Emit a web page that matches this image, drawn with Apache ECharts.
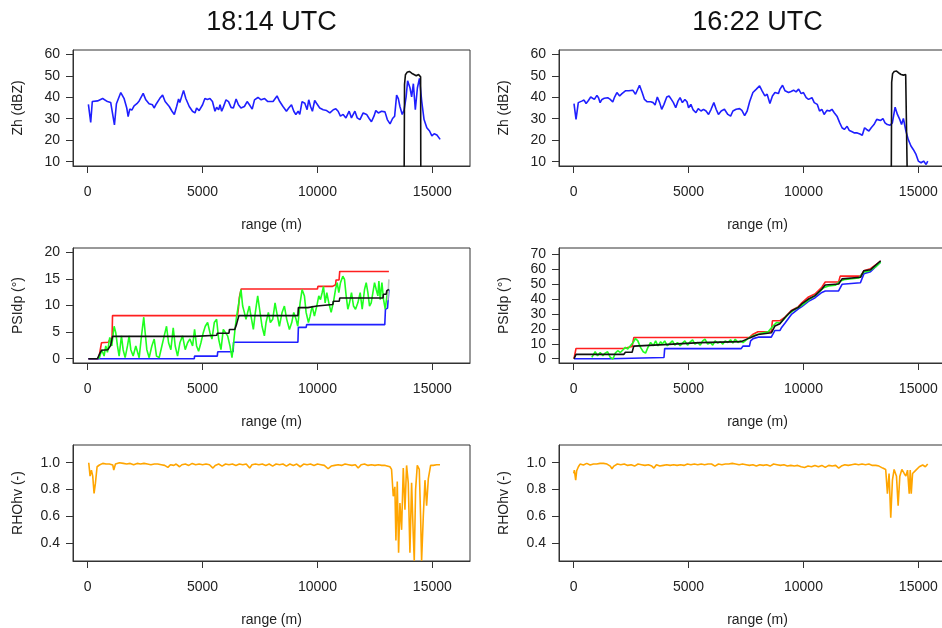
<!DOCTYPE html>
<html>
<head>
<meta charset="utf-8">
<script src="https://cdn.jsdelivr.net/npm/echarts@6/dist/echarts.min.js"></script>
<style>html,body{margin:0;padding:0;background:#fff;overflow:hidden}#c{width:942px;height:628px}</style>
</head>
<body>
<div id="c"></div>
<script>
// ---------- data ----------
const titles = ['18:14 UTC', '16:22 UTC'];
const xTicks = [0, 5000, 10000, 15000];
const zhTicks = [10, 20, 30, 40, 50, 60];
const psiTicksL = [0, 5, 10, 15, 20];
const psiTicksR = [0, 10, 20, 30, 40, 50, 60, 70];
const rhoTicks = [0.4, 0.6, 0.8, 1.0];

// Zh 18:14 (blue) [range m, dBZ]
const zhL = [[30,36.7],[131,28.3],[200,38],[430,38.3],[650,39.4],[860,38],[1000,37.6],[1080,37],[1164,27.1],[1250,37],
[1440,42.2],[1580,39.5],[1700,35],[1760,31],[1830,34.5],[1920,34],[2020,36],[2140,37],[2240,38.3],[2415,41.8],
[2530,38.8],[2670,37],[2820,36.5],[2890,35],[2990,37],[3140,39.5],[3260,41],[3370,38],[3550,35.7],[3670,33.5],
[3770,32],[3870,35.7],[3955,39.2],[4010,37.6],[4172,43.2],[4270,39.4],[4420,35.7],[4560,33.5],[4670,32.7],[4740,35],
[4850,33.8],[5000,36.5],[5100,39.4],[5210,39],[5320,39.4],[5430,38],[5540,33.5],[5610,35.3],[5700,34.2],[5760,36.5],
[5830,33.5],[5900,35.3],[6020,38.8],[6130,38],[6240,35.3],[6340,35],[6460,39.2],[6560,36.5],[6670,35],[6820,35.7],
[6940,38],[7040,36.5],[7160,34.5],[7260,38.8],[7410,39.9],[7550,38.8],[7700,39.4],[7840,38],[7910,38.8],[8068,38],
[8240,40.6],[8358,38],[8500,35.7],[8650,33.5],[8750,35],[8870,36.5],[8970,33.5],[9060,32],[9160,33.5],[9230,32],
[9330,38],[9450,37.2],[9550,34.2],[9620,38.8],[9700,35.7],[9780,33.5],[9880,38.5],[9960,37.2],[10030,38],[10100,35],
[10250,34.2],[10400,33.8],[10540,32.7],[10690,34.2],[10800,34.6],[10900,33.5],[11000,31.2],[11120,32],[11240,30.4],[11380,33.5],
[11480,30.4],[11630,33.5],[11730,30.4],[11850,29.6],[11990,32.7],[12140,32],[12250,30.1],[12350,28.6],[12460,31.2],[12540,33.8],
[12650,32.7],[12790,33.5],[12940,33.2],[13040,29.6],[13160,27.6],[13270,30.1],[13360,31.2],[13446,41],[13520,39.4],[13590,35.7],
[13690,32],[13770,34],[13860,40.2],[13925,47.7],[14030,44.3],[14100,40.2],[14175,46.3],[14260,34.2],[14350,44.3],[14440,48.8],
[14540,38],[14640,29.6],[14760,25.8],[14880,24.3],[14980,22],[15080,23],[15200,22.4],[15340,20.4]];
// Zh 18:14 (black)
const zhLb = [[13770,-5],[13790,46],[13830,50.5],[13900,51.6],[14000,52],[14100,51.2],[14200,50.6],[14300,50],[14400,50.6],[14460,50.3],[14490,49.5],[14500,-5]];

// Zh 16:22 (blue)
const zhR = [[13,37],[101,29.7],[200,37.5],[350,38.2],[450,38.7],[540,37.1],[640,38.5],[740,40.1],[820,39.8],[900,39],
[1010,40.9],[1080,39.8],[1150,37.5],[1230,39],[1330,39.5],[1480,39.8],[1590,39],[1700,37.8],[1780,40.1],[1880,42.2],
[2000,40.6],[2100,41.7],[2250,43],[2400,43],[2470,42.2],[2570,43.3],[2690,41.4],[2864,45.6],[2980,42.2],[3080,39],
[3200,37.9],[3350,37.9],[3460,37.5],[3540,36.4],[3640,40.1],[3740,37.5],[3830,34.4],[3930,36.7],[4050,40.1],[4150,40.6],
[4250,39],[4340,37.5],[4440,35.1],[4540,38.2],[4630,39.8],[4730,37.5],[4840,39],[4930,37.9],[5000,35.1],[5100,36.7],
[5200,34.1],[5320,32.8],[5420,34.7],[5540,33.6],[5650,34.4],[5760,33.6],[5870,32],[5980,34.4],[6100,37.5],[6200,34.4],
[6300,32],[6420,33.6],[6560,34.4],[6710,32],[6830,31.2],[6930,33.6],[7070,34.4],[7220,34.7],[7320,33.9],[7440,31.5],
[7550,33.6],[7660,38],[7800,42.2],[7950,43.8],[8090,45.3],[8200,43],[8320,40.6],[8420,41.4],[8540,37.1],[8650,40.6],
[8760,42.2],[8910,41.7],[8980,43.8],[9090,45.6],[9200,43],[9350,42.2],[9460,42.7],[9570,43.3],[9680,42.5],[9790,43.8],
[9900,41.7],[10000,42.2],[10120,39.8],[10220,39],[10370,39.8],[10470,37.5],[10600,36.7],[10700,33.6],[10800,34.4],[10900,32],
[11020,33.9],[11140,33.6],[11240,34.4],[11340,32.8],[11460,31.2],[11580,28.1],[11680,25.8],[11780,25],[11900,26.5],[12000,24.5],
[12120,23.9],[12220,23.4],[12340,23.4],[12460,22.9],[12560,22.3],[12660,25.8],[12750,25],[12850,24.3],[12950,25.8],[13070,27.3],
[13190,29.7],[13260,30.4],[13360,29.2],[13460,30.1],[13550,28.1],[13650,27.3],[13770,27],[13870,28.1],[13990,35.4],[14090,32],
[14190,29.7],[14270,27.3],[14350,30.1],[14460,24.3],[14560,20.4],[14680,17.3],[14780,15.7],[14900,13.4],[15000,10.3],[15120,9.5],
[15230,10.3],[15340,8.7],[15410,10.3]];
const zhRb = [[13820,-5],[13840,47],[13880,51],[13950,52],[14050,52.2],[14150,51.3],[14250,50.6],[14350,50.3],[14450,50.6],[14510,50],[14530,-5]];

// PSIdp 18:14
const psiLred = [[30,0],[480,0],[540,1.5],[600,3.0],[900,3.1],[960,3.6],[1060,3.8],[1080,8.1],[6520,8.1],[6560,9.5],[6600,11.5],[6680,13.1],
[10000,13.1],[10020,13.6],[10660,13.6],[10680,13.9],[10790,13.9],[10810,14.8],[10940,14.8],[10970,16.4],[13110,16.4]];
const psiLblue = [[30,0],[4640,0],[4650,0.5],[5640,0.5],[5660,1.3],[6330,1.3],[6350,3.1],[9150,3.1],[9170,5.9],[9510,5.9],[9530,6.4],
[12930,6.4],[12960,9.3],[13050,9.5],[13110,13]];
const psiLblack = [[30,0],[420,0],[550,1.2],[610,1.6],[880,1.7],[900,2.0],[1000,2.5],[1080,4.2],[4640,4.2],[4660,4.4],[5620,4.4],[5640,4.8],
[6150,4.8],[6170,5.5],[6400,5.5],[6480,6.5],[6580,8.1],[9150,8.1],[9170,9.6],[9580,9.6],[9600,9.9],[9980,9.9],[10000,10.2],[10670,10.2],
[10690,10.8],[10950,10.8],[10970,11.4],[12850,11.4],[12870,12.1],[12990,12.1],[13020,12.8],[13110,13]];
const psiLgray = [[13060,11],[13110,14.9]];
const psiLgreen = [[496,0],[612,1.7],[714,0.5],[786,2.4],[859,1.2],[961,4.0],[1048,2.4],[1150,6.1],[1222,4.9],[1295,2.4],
[1368,0.5],[1469,4.3],[1542,1.7],[1629,0.2],[1731,2.4],[1804,4.3],[1876,1.7],[1978,0.5],[2094,2.4],[2240,0.2],
[2341,4.3],[2440,7.8],[2501,4.9],[2574,1.7],[2676,0.2],[2792,2.4],[2894,3.7],[2995,0.5],[3112,0.2],[3228,2.4],
[3330,4.3],[3431,6.1],[3519,3.0],[3620,1.7],[3722,5.8],[3809,2.4],[3911,0.5],[4013,3.0],[4129,4.3],[4245,1.7],
[4347,3.0],[4449,3.7],[4565,2.4],[4652,5.5],[4739,2.4],[4827,1.4],[4928,3.0],[5030,4.9],[5117,6.1],[5219,6.8],
[5321,4.9],[5408,3.7],[5510,6.8],[5611,7.4],[5699,3.7],[5800,1.7],[5902,5.5],[5989,5.8],[6091,4.3],[6193,2.4],
[6280,0.2],[6338,2.4],[6411,5.5],[6483,8.0],[6600,11.1],[6672,13.0],[6745,9.9],[6818,8.7],[6890,7.4],[6963,8.7],
[7036,9.9],[7108,8.0],[7210,5.5],[7297,8.7],[7399,11.8],[7501,8.7],[7588,6.1],[7690,4.3],[7762,6.8],[7864,8.7],
[7951,6.8],[8053,7.4],[8155,10.5],[8227,8.7],[8343,6.1],[8460,8.7],[8561,9.9],[8663,7.4],[8780,5.5],[8881,6.8],
[8968,8.7],[9070,7.4],[9143,6.1],[9245,10.5],[9332,13.0],[9433,11.8],[9506,8.7],[9608,6.8],[9680,8.0],[9768,9.9],
[9869,8.0],[9971,9.9],[10058,11.8],[10131,11.1],[10204,12.4],[10262,13.6],[10335,10.5],[10407,12.4],[10494,10.5],[10596,8.7],
[10698,10.7],[10785,13.0],[10858,14.3],[10930,12.4],[11003,14.3],[11105,15.5],[11177,14.9],[11250,11.8],[11323,9.3],[11395,10.5],
[11482,12.4],[11570,9.9],[11657,9.3],[11759,10.5],[11860,12.4],[11948,9.3],[12049,13.0],[12122,14.3],[12195,12.4],[12267,9.9],
[12340,10.5],[12413,12.4],[12485,14.3],[12558,13.0],[12631,11.8],[12674,14.6],[12733,11.1],[12805,14.3],[12878,11.1],[12950,9.3],
[13023,11.8],[13096,13.0]];

// PSIdp 16:22
const psiRred = [[13,0],[60,0],[101,6.9],[2177,6.9],[2200,8.2],[2540,8.2],[2620,14.3],[7650,14.3],[7700,15.4],[7810,16.5],[8020,18.1],
[8600,18.1],[8650,25.5],[8980,25.5],[9050,26],[9200,28],[9480,32.5],[9780,35],[9930,37.5],[10220,41.5],[10500,43.5],[10800,48],
[10950,51.5],[11530,51.5],[11600,55.5],[12480,55.5],[12630,59],[12920,60.5],[13360,65.5]];
const psiRblue = [[13,0],[1590,0],[1600,0.8],[3930,0.8],[3960,6.8],[7290,6.8],[7370,8.5],[7650,8.5],[7700,12],[7810,13.5],[8030,14.5],
[8600,14.5],[8760,19],[8980,19],[9050,21],[9200,24],[9490,30],[9780,33.5],[9930,35],[10220,38.5],[10510,41],[10800,44.5],
[10950,45.5],[11530,45.5],[11680,50],[12480,51],[12630,57],[12920,58.5],[13360,65]];
const psiRblack = [[13,0],[101,2.9],[2177,2.9],[2250,4.4],[2543,4.4],[2615,8.5],[3930,9.5],[3960,10.5],[5500,10.8],[7290,11.5],
[7660,14],[7810,15],[8030,16.3],[8610,17.5],[8760,22],[8975,23.5],[9195,27.7],[9487,32.2],[9779,34.5],[9925,36.8],
[10218,40.1],[10510,42.4],[10803,46.8],[10949,49.5],[11534,50.2],[11680,53.6],[12484,54.7],[12630,59.1],[12923,59.8],[13361,65.8]];
const psiRgreen = [[788,0.9],[934,4.7],[1037,2.0],[1153,4.2],[1270,2.0],[1373,3.8],[1475,4.7],[1592,0.9],[1709,-0.2],[1811,3.8],
[1914,5.4],[2031,4.2],[2148,6.0],[2250,7.6],[2352,6.5],[2469,8.7],[2586,10.9],[2689,13.6],[2791,12.0],[2908,7.6],
[3025,4.7],[3127,3.8],[3230,7.6],[3347,10.9],[3464,8.7],[3566,12.0],[3668,8.7],[3785,11.4],[3858,9.8],[3960,12.0],
[4077,8.7],[4195,10.5],[4297,12.0],[4399,9.1],[4516,10.9],[4633,8.7],[4736,10.5],[4838,12.0],[4955,9.1],[5072,11.4],
[5174,12.7],[5276,9.8],[5393,10.9],[5510,9.1],[5613,12.0],[5715,13.1],[5832,9.8],[5949,10.9],[6051,9.1],[6154,12.0],
[6271,10.5],[6388,11.4],[6490,9.8],[6592,12.0],[6709,10.9],[6826,12.7],[6928,10.5],[7031,13.1],[7148,10.9],[7265,12.0],
[7367,10.9],[7513,12.7],[7659,14.3],[7880,15.8],[8171,17.1],[8464,18.1],[8683,22.1],[8829,24.3],[8975,23.9],[9121,26.1],
[9341,29.9],[9633,33.2],[9925,35.9],[10218,39.4],[10510,42.6],[10730,45.5],[10876,47.7],[11095,48.8],[11387,49.3],[11607,52.2],
[11826,53.3],[12119,53.7],[12411,54.2],[12630,58.2],[12849,58.8],[13142,61.7],[13361,64.8]];

// RHOhv 18:14
const rhoL = [[45,1.0],[103,0.9],[161,0.945],[219,0.9],[277,0.772],[335,0.846],[408,0.97],[510,0.983],[655,0.995],[800,0.99],
[945,0.99],[1091,0.983],[1135,0.945],[1208,0.99],[1382,1.0],[1550,0.995],[1700,0.99],[1850,0.995],[2000,0.985],[2150,0.995],
[2300,0.99],[2450,0.995],[2600,0.99],[2750,0.985],[2900,0.99],[3050,0.99],[3200,0.985],[3350,0.98],[3490,0.965],[3600,0.985],
[3750,0.98],[3850,0.99],[3998,0.97],[4100,0.985],[4250,0.99],[4400,0.98],[4550,0.995],[4700,0.985],[4850,0.99],[5000,0.985],
[5150,0.99],[5300,0.985],[5451,0.96],[5550,0.98],[5700,0.99],[5850,0.975],[6000,0.99],[6150,0.985],[6300,0.99],[6450,0.98],
[6600,0.99],[6750,0.985],[6900,0.99],[7050,0.96],[7150,0.985],[7300,0.99],[7450,0.985],[7600,0.99],[7750,0.98],[7900,0.99],
[8050,0.975],[8200,0.99],[8350,0.985],[8500,0.99],[8650,0.975],[8800,0.99],[8950,0.98],[9100,0.99],[9250,0.97],[9400,0.99],
[9550,0.985],[9700,0.99],[9850,0.98],[10000,0.99],[10150,0.985],[10300,0.98],[10465,0.955],[10600,0.975],[10750,0.98],[10900,0.985],
[11050,0.98],[11200,0.99],[11350,0.985],[11500,0.98],[11650,0.985],[11773,0.96],[11900,0.985],[12050,0.99],[12200,0.98],[12350,0.985],
[12500,0.98],[12650,0.985],[12800,0.98],[12950,0.98],[13154,0.97],[13226,0.95],[13300,0.75],[13370,0.82],[13416,0.42],[13474,0.86],
[13532,0.33],[13590,0.7],[13663,0.5],[13736,0.96],[13808,0.65],[13880,0.98],[13953,0.85],[14025,0.33],[14098,0.85],[14171,0.46],
[14214,0.27],[14272,0.8],[14345,0.98],[14432,0.95],[14490,0.6],[14534,0.27],[14607,0.6],[14680,0.87],[14752,0.68],[14825,0.88],
[14926,0.98],[15042,0.98],[15188,0.985],[15333,0.985]];

// RHOhv 16:22
const rhoR = [[0,0.92],[28,0.945],[87,0.871],[130,0.94],[204,0.97],[277,0.99],[423,0.983],[569,0.995],[715,0.983],[861,0.99],
[1000,0.99],[1150,0.995],[1300,0.995],[1450,0.99],[1592,0.975],[1665,0.955],[1750,0.975],[1900,0.99],[2050,0.985],[2200,0.99],
[2350,0.98],[2500,0.985],[2650,0.975],[2800,0.99],[2950,0.985],[3100,0.98],[3250,0.985],[3400,0.975],[3493,0.96],[3600,0.985],
[3750,0.975],[3900,0.98],[4050,0.985],[4200,0.98],[4350,0.985],[4500,0.98],[4650,0.985],[4800,0.98],[4950,0.99],[5100,0.985],
[5250,0.99],[5400,0.985],[5550,0.99],[5700,0.985],[5850,0.99],[6000,0.99],[6150,0.975],[6300,0.99],[6450,0.985],[6600,0.99],
[6750,0.99],[6900,0.995],[7050,0.99],[7200,0.985],[7350,0.99],[7500,0.985],[7650,0.98],[7800,0.985],[7950,0.975],[8100,0.985],
[8250,0.98],[8400,0.985],[8550,0.975],[8700,0.99],[8850,0.985],[9000,0.98],[9150,0.985],[9300,0.975],[9450,0.98],[9600,0.975],
[9750,0.98],[9900,0.97],[10050,0.965],[10200,0.975],[10350,0.97],[10500,0.98],[10650,0.97],[10800,0.98],[10950,0.965],[11100,0.98],
[11250,0.975],[11400,0.98],[11534,0.96],[11650,0.975],[11800,0.985],[11950,0.98],[12100,0.985],[12250,0.99],[12400,0.985],[12550,0.99],
[12700,0.985],[12850,0.99],[13000,0.98],[13150,0.98],[13288,0.975],[13450,0.96],[13580,0.95],[13655,0.77],[13727,0.92],[13800,0.59],
[13873,0.87],[13946,0.95],[14049,0.9],[14121,0.68],[14195,0.9],[14283,0.95],[14385,0.92],[14458,0.9],[14531,0.945],[14604,0.77],
[14648,0.945],[14692,0.77],[14750,0.92],[14823,0.93],[14896,0.945],[15043,0.97],[15189,0.983],[15306,0.97],[15408,0.99]];

// ---------- chart ----------
const FONT = '"Liberation Sans", Arial, Helvetica, sans-serif';
const TXT = '#222';
const AX = '#333';
const colLeft = [73, 559];
const rowTop = [50, 248, 445];
const W = 397;
const H = [116, 115, 116];

const grids = [], xAxes = [], yAxes = [], series = [];
const yCfg = [
  {min: 8, max: 62, ticks: zhTicks, name: 'Zh (dBZ)', dec: 0},
  {min: -0.8, max: 20.8, ticks: psiTicksL, name: 'PSIdp (\u00b0)', dec: 0},
  {min: 0.268, max: 1.132, ticks: rhoTicks, name: 'RHOhv (-)', dec: 1}
];
const yCfgR1 = {min: -2.86, max: 74.36, ticks: psiTicksR, name: 'PSIdp (\u00b0)', dec: 0};

let idx = 0;
const panelIndex = {};
for (let r = 0; r < 3; r++) {
  for (let c = 0; c < 2; c++) {
    const cfg = (r === 1 && c === 1) ? yCfgR1 : yCfg[r];
    grids.push({left: colLeft[c], top: rowTop[r], width: W, height: H[r], show: true,
      borderColor: AX, borderWidth: 1, backgroundColor: 'transparent', outerBoundsMode: 'none', containLabel: false});
    xAxes.push({type: 'value', gridIndex: idx, min: -640, max: 16640,
      splitLine: {show: false},
      axisLine: {show: true, onZero: false, lineStyle: {color: AX, width: 1}},
      axisTick: {show: true, length: 7, customValues: xTicks, lineStyle: {color: AX, width: 1}},
      axisLabel: {customValues: xTicks, margin: 19, fontSize: 14, color: TXT, fontFamily: FONT,
        formatter: v => String(Math.round(v))},
      name: 'range (m)', nameLocation: 'middle', nameGap: 52,
      nameTextStyle: {fontSize: 14, color: TXT, fontFamily: FONT}});
    const dec = cfg.dec;
    yAxes.push({type: 'value', gridIndex: idx, min: cfg.min, max: cfg.max,
      splitLine: {show: false},
      axisLine: {show: true, onZero: false, lineStyle: {color: AX, width: 1}},
      axisTick: {show: true, length: 7, customValues: cfg.ticks, lineStyle: {color: AX, width: 1}},
      axisLabel: {customValues: cfg.ticks, margin: 13, fontSize: 14, color: TXT, fontFamily: FONT,
        formatter: v => Number(v).toFixed(dec)},
      name: cfg.name, nameLocation: 'middle', nameGap: 48, nameRotate: 90,
      nameTextStyle: {fontSize: 14, color: TXT, fontFamily: FONT}});
    panelIndex[r + '_' + c] = idx;
    idx++;
  }
}

function line(panel, data, color, width) {
  const i = panelIndex[panel];
  series.push({type: 'line', xAxisIndex: i, yAxisIndex: i, data: data, showSymbol: false, symbol: 'none',
    clip: true, silent: true, animation: false,
    lineStyle: {color: color, width: width || 1.6}});
}
line('0_0', zhL, '#1f1fff');
line('0_0', zhLb, '#111111');
line('0_1', zhR, '#1f1fff');
line('0_1', zhRb, '#111111');
line('1_0', psiLred, '#ff1f1f');
line('1_0', psiLblue, '#1f1fff');
line('1_0', psiLgreen, '#1fff1f');
line('1_0', psiLgray, '#c0c0c0');
line('1_0', psiLblack, '#111111');
line('1_1', psiRred, '#ff1f1f');
line('1_1', psiRblue, '#1f1fff');
line('1_1', psiRgreen, '#1fff1f');
line('1_1', psiRblack, '#111111');
line('2_0', rhoL, '#ffa500');
line('2_1', rhoR, '#ffa500');

const chart = echarts.init(document.getElementById('c'), null, {renderer: 'canvas'});
chart.setOption({
  animation: false,
  backgroundColor: '#ffffff',
  grid: grids, xAxis: xAxes, yAxis: yAxes, series: series,
  graphic: titles.map((t, k) => ({type: 'text', x: colLeft[k] + W / 2, y: 23,
    style: {text: t, fill: '#111', font: '27px ' + FONT, textAlign: 'center', textVerticalAlign: 'middle'}}))
});
</script>
</body>
</html>
